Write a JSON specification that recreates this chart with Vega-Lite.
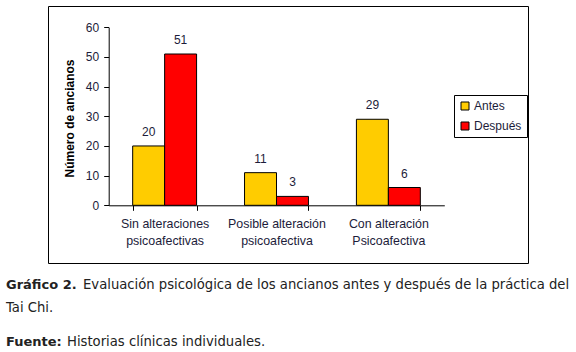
{
  "$schema": "https://vega.github.io/schema/vega-lite/v6.json",
  "autosize": {"type": "none"},
  "width": 480,
  "height": 257,
  "padding": {"left": 48, "top": 6, "right": 48, "bottom": 89},
  "background": "white",
  "config": {"view": {"stroke": "black", "strokeWidth": 1}, "font": "Liberation Sans"},
  "data": {
    "values": [
      {"categoria": "Sin alteraciones psicoafectivas", "serie": "Antes", "valor": 20},
      {"categoria": "Sin alteraciones psicoafectivas", "serie": "Después", "valor": 51},
      {"categoria": "Posible alteración psicoafectiva", "serie": "Antes", "valor": 11},
      {"categoria": "Posible alteración psicoafectiva", "serie": "Después", "valor": 3},
      {"categoria": "Con alteración Psicoafectiva", "serie": "Antes", "valor": 29},
      {"categoria": "Con alteración Psicoafectiva", "serie": "Después", "valor": 6}
    ]
  },
  "layer": [
    {
      "mark": {"type": "bar", "stroke": "black", "strokeWidth": 1},
      "encoding": {
        "x": {
          "field": "categoria", "type": "nominal", "sort": null,
          "scale": {"range": [60.7, 396.3], "paddingInner": 0.4286, "paddingOuter": 0.2143},
          "axis": {
            "offset": -57.7, "tickBand": "extent", "tickSize": 5, "labelPadding": 7,
            "labelAngle": 0, "labelOverlap": false,
            "labelExpr": "[join(slice(split(datum.label,' '),0,2),' '), split(datum.label,' ')[2]]",
            "labelLineHeight": 17, "labelFontSize": 12.4, "labelColor": "#1c1c3a",
            "title": null, "domainColor": "black", "tickColor": "black", "grid": false
          }
        },
        "xOffset": {"field": "serie", "type": "nominal", "sort": ["Antes", "Después"], "scale": {"paddingInner": 0, "paddingOuter": 0}},
        "y": {
          "field": "valor", "type": "quantitative",
          "scale": {"domain": [0, 60], "range": [199.3, 21.3], "nice": false, "zero": true},
          "axis": {
            "offset": -60.7, "values": [0, 10, 20, 30, 40, 50, 60], "tickSize": 5, "labelPadding": 5,
            "domainColor": "black", "tickColor": "black", "labelColor": "#1c1c3a", "labelFontSize": 12,
            "grid": false, "title": "Número de ancianos", "titleFontSize": 12, "titleFontWeight": "bold",
            "titleColor": "black", "titleX": -39, "titleY": 112, "titleBaseline": "middle", "titleAlign": "center", "titleAngle": 270
          }
        },
        "color": {
          "field": "serie", "type": "nominal",
          "scale": {"domain": ["Antes", "Después"], "range": ["#FFCC00", "#FF0000"]},
          "legend": {
            "orient": "none", "legendX": 406, "legendY": 89, "title": null, "direction": "vertical",
            "symbolType": "square", "symbolSize": 64, "symbolStrokeColor": "black", "symbolStrokeWidth": 1, "symbolOpacity": 1,
            "labelFontSize": 12, "labelColor": "#1c1c3a", "labelOffset": 3, "rowPadding": 8, "padding": 5,
            "strokeColor": "black", "fillColor": "white"
          }
        }
      }
    },
    {
      "mark": {"type": "text", "dy": -7, "fontSize": 12, "color": "#1c1c3a", "baseline": "bottom"},
      "encoding": {
        "x": {"field": "categoria", "type": "nominal", "sort": null},
        "xOffset": {"field": "serie", "type": "nominal", "sort": ["Antes", "Después"]},
        "y": {"field": "valor", "type": "quantitative"},
        "text": {"field": "valor", "type": "quantitative"}
      }
    },
    {
      "data": {"values": [{}]},
      "mark": {"type": "text", "text": "Gráfico 2.", "x": -42, "y": 279, "align": "left", "baseline": "middle", "font": "DejaVu Sans", "fontSize": 13, "fontWeight": "bold", "color": "#222222"}
    },
    {
      "data": {"values": [{}]},
      "mark": {"type": "text", "text": "Evaluación psicológica de los ancianos antes y después de la práctica del", "x": 35, "y": 279, "align": "left", "baseline": "middle", "font": "DejaVu Sans", "fontSize": 13.2, "color": "#222222"}
    },
    {
      "data": {"values": [{}]},
      "mark": {"type": "text", "text": "Tai Chi.", "x": -42, "y": 302, "align": "left", "baseline": "middle", "font": "DejaVu Sans", "fontSize": 13.2, "color": "#222222"}
    },
    {
      "data": {"values": [{}]},
      "mark": {"type": "text", "text": "Fuente:", "x": -42, "y": 336, "align": "left", "baseline": "middle", "font": "DejaVu Sans", "fontSize": 13, "fontWeight": "bold", "color": "#222222"}
    },
    {
      "data": {"values": [{}]},
      "mark": {"type": "text", "text": "Historias clínicas individuales.", "x": 19, "y": 336, "align": "left", "baseline": "middle", "font": "DejaVu Sans", "fontSize": 13.2, "color": "#222222"}
    }
  ]
}
